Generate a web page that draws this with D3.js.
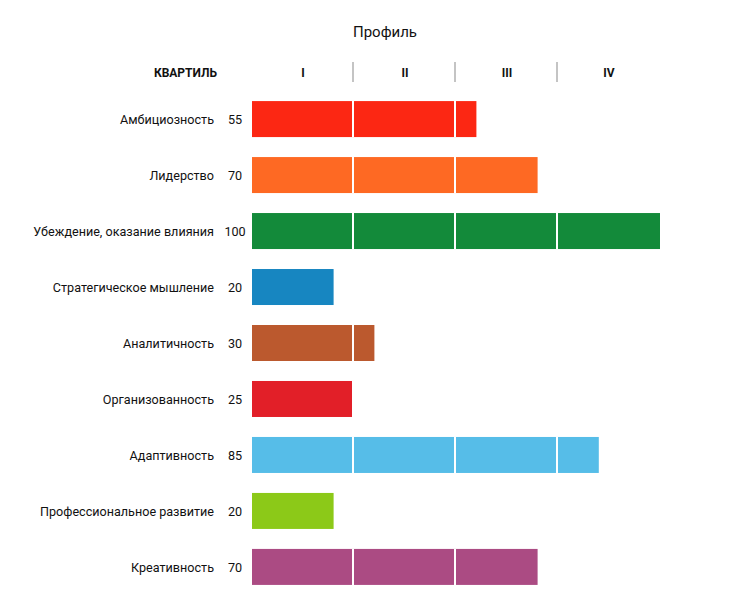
<!DOCTYPE html>
<html>
<head>
<meta charset="utf-8">
<script src="https://cdn.jsdelivr.net/npm/d3@7"></script>
<style>
    body { margin: 0; background: #fff; }
</style>
</head>
<body>
<script>
const categories = ["Амбициозность", "Лидерство", "Убеждение, оказание влияния", "Стратегическое мышление",
    "Аналитичность", "Организованность", "Адаптивность", "Профессиональное развитие", "Креативность"];
const values = [55, 70, 100, 20, 30, 25, 85, 20, 70];
const colors = ["#fc2713", "#fe6923", "#138a3a", "#1786c1", "#bb592e", "#e21f28", "#56bde8", "#8cc918", "#ab4b83"];
const quartiles = ["I", "II", "III", "IV"];
const quartileBreaks = [25, 50, 75];

const width = 730, height = 598;
const font = "Roboto, sans-serif";

const svg = d3.select("body").append("svg")
    .attr("width", width)
    .attr("height", height);

const x = d3.scaleLinear().domain([0, 100]).range([252, 660]);
const y = d3.scaleBand().domain(categories).range([91, 595]).paddingInner(0.357).paddingOuter(0.18);

// title
svg.append("text")
    .attr("x", 385).attr("y", 37)
    .attr("text-anchor", "middle")
    .attr("font-family", font).attr("font-size", 15).attr("fill", "#111")
    .text("Профиль");

// header row
svg.append("text")
    .attr("x", 217).attr("y", 77)
    .attr("text-anchor", "end")
    .attr("font-family", font).attr("font-size", 12).attr("font-weight", "bold").attr("fill", "#111")
    .text("КВАРТИЛЬ");

svg.append("g")
    .selectAll("text")
    .data(quartiles)
    .enter()
    .append("text")
    .attr("x", (d, i) => x(i * 25 + 12.5))
    .attr("y", 77)
    .attr("text-anchor", "middle")
    .attr("font-family", font).attr("font-size", 12).attr("font-weight", "bold").attr("fill", "#111")
    .text(d => d);

svg.append("g")
    .selectAll("line")
    .data(quartileBreaks)
    .enter()
    .append("line")
    .attr("x1", d => x(d) - 1).attr("x2", d => x(d) - 1)
    .attr("y1", 62).attr("y2", 82)
    .attr("stroke", "#c4c4c4").attr("stroke-width", 2);

// bars
svg.append("g")
    .selectAll("rect")
    .data(values)
    .enter()
    .append("rect")
    .attr("x", x(0))
    .attr("y", (d, i) => y(categories[i]))
    .attr("width", d => x(d) - x(0))
    .attr("height", y.bandwidth())
    .attr("fill", (d, i) => colors[i]);

// white quartile separators inside bars
values.forEach(function (v, i) {
    svg.append("g")
        .selectAll("line")
        .data(quartileBreaks.filter(b => b <= v))
        .enter()
        .append("line")
        .attr("x1", d => x(d) - 1).attr("x2", d => x(d) - 1)
        .attr("y1", y(categories[i])).attr("y2", y(categories[i]) + y.bandwidth())
        .attr("stroke", "#fff").attr("stroke-width", 2);
});

// category labels
svg.append("g")
    .selectAll("text")
    .data(categories)
    .enter()
    .append("text")
    .attr("x", 214)
    .attr("y", d => y(d) + y.bandwidth() / 2)
    .attr("dy", "0.37em")
    .attr("text-anchor", "end")
    .attr("font-family", font).attr("font-size", 12.6).attr("fill", "#111")
    .text(d => d);

// value labels
svg.append("g")
    .selectAll("text")
    .data(values)
    .enter()
    .append("text")
    .attr("x", 235)
    .attr("y", (d, i) => y(categories[i]) + y.bandwidth() / 2)
    .attr("dy", "0.37em")
    .attr("text-anchor", "middle")
    .attr("font-family", font).attr("font-size", 12.6).attr("fill", "#111")
    .text(d => d);
</script>
</body>
</html>
